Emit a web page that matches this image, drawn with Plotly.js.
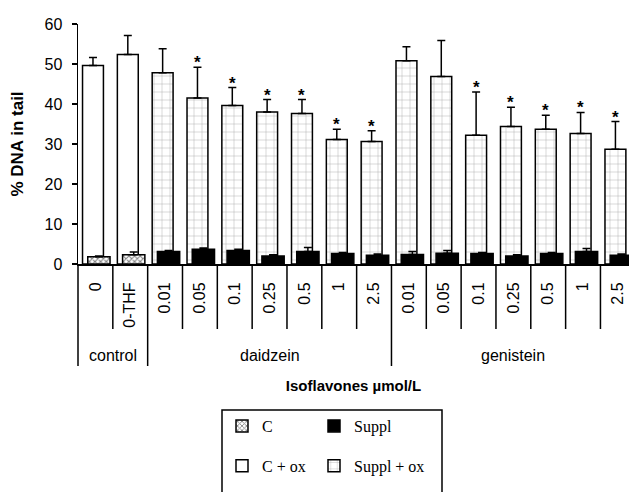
<!DOCTYPE html>
<html>
<head>
<meta charset="utf-8">
<script src="https://cdn.plot.ly/plotly-3.0.1.min.js"></script>
<style>html,body{margin:0;padding:0;background:#fff;}</style>
</head>
<body>
<div id="chart" style="width:629px;height:492px;"></div>
<script>
// ---- data ----
var doses = ['0','0-THF','0.01','0.05','0.1','0.25','0.5','1','2.5','0.01','0.05','0.1','0.25','0.5','1','2.5'];
var groupNames = ['control','daidzein','genistein'];
var groupStart = [0, 2, 9];
var groupEnd = [1, 8, 15];
// oxidised (C + ox / Suppl + ox)
var oxMean = [49.6, 52.4, 47.8, 41.5, 39.6, 38.0, 37.6, 31.1, 30.6, 50.8, 46.9, 32.2, 34.4, 33.7, 32.6, 28.7];
var oxErr  = [2.0, 4.7, 6.0, 7.7, 4.5, 3.1, 3.5, 2.6, 2.7, 3.5, 9.0, 10.8, 4.8, 3.5, 5.3, 6.9];
// not oxidised (C / Suppl)
var baseMean = [1.8, 2.3, 3.1, 3.7, 3.4, 2.0, 3.1, 2.6, 2.2, 2.4, 2.7, 2.6, 2.0, 2.6, 3.1, 2.2];
var baseErr  = [0.2, 0.7, 0.3, 0.3, 0.3, 0.3, 1.0, 0.3, 0.3, 0.7, 0.7, 0.3, 0.3, 0.3, 0.8, 0.3];
// significance marks
var significant = [false,false,false,true,true,true,true,true,true,false,false,true,true,true,true,true];
var yTicks = [0, 10, 20, 30, 40, 50, 60];

// ---- helpers ----
var idx = doses.map(function(_, i){ return i; });
function pick(arr, a, b){ return arr.slice(a, b + 1); }
var ctrlIdx = pick(idx, 0, 1), suppIdx = pick(idx, 2, 15);
var BIG_OFF = -0.37, BIG_W = 0.6, SM_OFF = -0.22, SM_W = 0.64;
var lineStyle = {color: '#000', width: 1.5};
function errBar(vals){
  return {type: 'data', array: vals, arrayminus: vals.map(function(){return 0;}), symmetric: false,
          color: '#000', thickness: 1.5, width: 4};
}

var traces = [
  { name: 'C + ox', type: 'bar', x: ctrlIdx, y: pick(oxMean,0,1), offset: BIG_OFF, width: BIG_W,
    marker: {color: '#fff', line: lineStyle}, error_y: errBar(pick(oxErr,0,1)),
    legend: 'legend', legendgroup: 'cox', legendrank: 2 },
  { name: 'Suppl + ox', type: 'bar', x: suppIdx, y: pick(oxMean,2,15), offset: BIG_OFF, width: BIG_W,
    marker: {color: '#fff', line: lineStyle,
             pattern: {shape: '+', size: 8, solidity: 0.1, fgcolor: '#444', bgcolor: '#fff', fillmode: 'overlay'}},
    error_y: errBar(pick(oxErr,2,15)),
    legend: 'legend2', legendgroup: 'sox', legendrank: 2 },
  { name: 'C', type: 'bar', x: ctrlIdx, y: pick(baseMean,0,1), offset: SM_OFF, width: SM_W,
    marker: {color: '#fff', line: lineStyle,
             pattern: {shape: 'x', size: 4, solidity: 0.45, fgcolor: '#000', bgcolor: '#fff', fillmode: 'overlay'}},
    error_y: errBar(pick(baseErr,0,1)),
    legend: 'legend', legendgroup: 'c', legendrank: 1 },
  { name: 'Suppl', type: 'bar', x: suppIdx, y: pick(baseMean,2,15), offset: SM_OFF, width: SM_W,
    marker: {color: '#000', line: lineStyle}, error_y: errBar(pick(baseErr,2,15)),
    legend: 'legend2', legendgroup: 's', legendrank: 1 }
];

// ---- plot geometry ----
var L = 78, T = 24, W = 629, H = 492, B = 228;
var plotW = W - L, plotH = H - T - B;
function px2paperX(px){ return (px - L) / plotW; }
function px2paperY(py){ return (H - B - py) / plotH; }

var shapes = [];
// divider lines below the axis
for (var i = 1; i < doses.length; i++) {
  var isGroup = groupStart.indexOf(i) >= 0;
  shapes.push({type: 'line', xref: 'x', yref: 'paper', x0: i - 0.5, x1: i - 0.5,
               y0: 0, y1: px2paperY(isGroup ? 366 : 329), line: {color: '#000', width: 1.5}});
}
shapes.push({type: 'line', xref: 'paper', yref: 'paper', x0: 0, x1: 0, y0: 0, y1: px2paperY(366),
             line: {color: '#000', width: 1.5}});
// legend frame
shapes.push({type: 'rect', xref: 'paper', yref: 'paper', x0: px2paperX(222), x1: px2paperX(442),
             y0: px2paperY(410), y1: px2paperY(520), line: {color: '#000', width: 1.5}, fillcolor: 'rgba(0,0,0,0)'});

var annotations = [];
groupNames.forEach(function(g, k){
  annotations.push({xref: 'x', yref: 'paper', x: (groupStart[k] + groupEnd[k]) / 2, y: px2paperY(355),
                    text: g, showarrow: false, yanchor: 'middle',
                    font: {family: 'Liberation Sans, Arial, sans-serif', size: 16, color: '#000'}});
});
significant.forEach(function(s, i){
  if (!s) return;
  annotations.push({xref: 'x', yref: 'y', x: i + BIG_OFF + BIG_W / 2, y: oxMean[i] + oxErr[i],
                    text: '*', showarrow: false, yanchor: 'bottom', yshift: -7,
                    font: {family: 'Liberation Sans, Arial, sans-serif', size: 17, color: '#000', weight: 'bold'}});
});

var legendFont = {family: 'Liberation Serif, Times New Roman, serif', size: 16, color: '#000'};
var layout = {
  width: W, height: H,
  margin: {l: L, r: 0, t: T, b: B, pad: 0},
  paper_bgcolor: '#fff', plot_bgcolor: '#fff',
  barmode: 'overlay',
  showlegend: true,
  xaxis: {
    type: 'linear', range: [-0.5, -0.5 + plotW / 34.83],
    tickmode: 'array', tickvals: idx, ticktext: doses, tickangle: -90,
    ticks: '', showgrid: false, zeroline: false,
    showline: true, linecolor: '#000', linewidth: 2,
    ticklabelstandoff: 10,
    tickfont: {family: 'Liberation Sans, Arial, sans-serif', size: 16, color: '#000'},
    title: {text: 'Isoflavones µmol/L', standoff: 54,
            font: {family: 'Liberation Sans, Arial, sans-serif', size: 15, color: '#000', weight: 'bold'}}
  },
  yaxis: {
    range: [0, 60], tickmode: 'array', tickvals: yTicks,
    ticks: 'outside', ticklen: 5, tickwidth: 1.5, tickcolor: '#000',
    showgrid: false, zeroline: false,
    showline: true, linecolor: '#000', linewidth: 1.5,
    ticklabelstandoff: 6,
    tickfont: {family: 'Liberation Sans, Arial, sans-serif', size: 16, color: '#000'},
    title: {text: '% DNA in tail', standoff: 16,
            font: {family: 'Liberation Sans, Arial, sans-serif', size: 17, color: '#000', weight: 'bold'}}
  },
  legend: {x: px2paperX(222), xanchor: 'left', y: px2paperY(409), yanchor: 'top',
           orientation: 'v', traceorder: 'grouped', tracegroupgap: 16,
           bgcolor: 'rgba(0,0,0,0)', borderwidth: 0, font: legendFont},
  legend2: {x: px2paperX(314), xanchor: 'left', y: px2paperY(409), yanchor: 'top',
           orientation: 'v', traceorder: 'grouped', tracegroupgap: 16,
           bgcolor: 'rgba(0,0,0,0)', borderwidth: 0, font: legendFont},
  shapes: shapes,
  annotations: annotations
};

Plotly.newPlot('chart', traces, layout, {displayModeBar: false, staticPlot: true});
</script>
</body>
</html>
